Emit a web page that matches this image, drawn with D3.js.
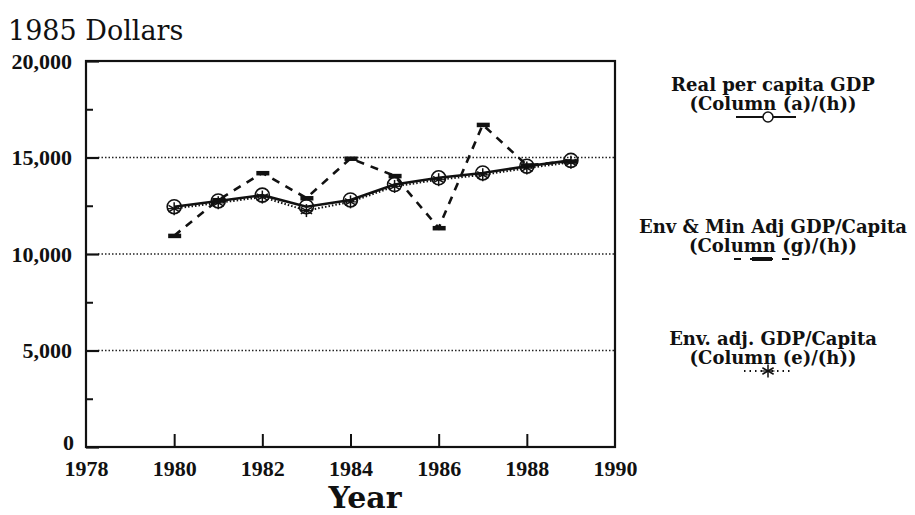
<!DOCTYPE html>
<html>
<head>
<meta charset="utf-8">
<script src="https://cdn.jsdelivr.net/npm/d3@7"></script>
<style>
  body { margin: 0; background: #fff; }
  svg { display: block; }
</style>
</head>
<body>
<script>
// values (1985 dollars)
const years = [1980, 1981, 1982, 1983, 1984, 1985, 1986, 1987, 1988, 1989]
const realGdp = [12450, 12750, 13050, 12450, 12800, 13600, 13950, 14200, 14550, 14850]
const envMinAdj = [10950, 12800, 14200, 12900, 14950, 14050, 11350, 16700, 14600, 14800]
const envAdj = [12350, 12650, 12950, 12250, 12700, 13500, 13850, 14100, 14450, 14750]

const yMajor = [0, 5000, 10000, 15000, 20000]
const yMinor = [2500, 7500, 12500, 17500]
const yGrid = [5000, 10000, 15000]
const xTicks = [1978, 1980, 1982, 1984, 1986, 1988, 1990]

const legendItems = [
  {line1: 'Real per capita GDP', line2: '(Column (a)/(h))', key: 'real'},
  {line1: 'Env & Min Adj GDP/Capita', line2: '(Column (g)/(h))', key: 'envmin'},
  {line1: 'Env. adj. GDP/Capita', line2: '(Column (e)/(h))', key: 'env'}
]

const W = 915, H = 515
const LEFT = 86, RIGHT = 615, TOP = 61, BOTTOM = 447
const SERIF = '"DejaVu Serif", serif'
const TICKFONT = '"Liberation Serif", "Times New Roman", serif'

const svg = d3.select('body').append('svg')
  .attr('width', W)
  .attr('height', H)

const x = d3.scaleLinear().domain([1978, 1990]).range([LEFT, RIGHT])
const y = d3.scaleLinear().domain([0, 20000]).range([BOTTOM, TOP])

// dotted grid lines
svg.append('g').selectAll('line')
  .data(yGrid)
  .join('line')
  .attr('x1', LEFT + 12)
  .attr('x2', RIGHT)
  .attr('y1', d => y(d))
  .attr('y2', d => y(d))
  .attr('stroke', '#222')
  .attr('stroke-width', 1.3)
  .attr('stroke-dasharray', '1.5,2')

// frame
svg.append('rect')
  .attr('x', LEFT).attr('y', TOP)
  .attr('width', RIGHT - LEFT).attr('height', BOTTOM - TOP)
  .attr('fill', 'none')
  .attr('stroke', '#111')
  .attr('stroke-width', 2.2)

// y axis, ticks point inside
const yAxis = svg.append('g')
  .attr('transform', `translate(${LEFT},0)`)
  .call(d3.axisLeft(y).tickValues(yMajor).tickSize(-13).tickPadding(14)
    .tickFormat(d3.format(',')))
yAxis.select('.domain').remove()
yAxis.selectAll('.tick line').attr('stroke', '#111').attr('stroke-width', 2.2)
yAxis.selectAll('.tick text')
  .attr('font-family', TICKFONT)
  .attr('font-weight', 'bold')
  .attr('font-size', 22)
  .attr('fill', '#111')
  .filter(d => d === 0)
  .attr('dy', '0.12em')
  .attr('x', -12)

svg.append('g')
  .attr('transform', `translate(${LEFT},0)`)
  .call(d3.axisLeft(y).tickValues(yMinor).tickSize(-7).tickFormat(''))
  .call(g => g.select('.domain').remove())
  .selectAll('.tick line').attr('stroke', '#111').attr('stroke-width', 2)

// x axis, ticks point up
const xAxis = svg.append('g')
  .attr('transform', `translate(0,${BOTTOM})`)
  .call(d3.axisBottom(x).tickValues(xTicks).tickSize(-13).tickPadding(13)
    .tickFormat(d3.format('d')))
xAxis.select('.domain').remove()
xAxis.selectAll('.tick line')
  .attr('stroke', '#111').attr('stroke-width', 2)
  .filter(d => d === 1978 || d === 1990).remove()
xAxis.selectAll('.tick text')
  .attr('font-family', TICKFONT)
  .attr('font-weight', 'bold')
  .attr('font-size', 22)
  .attr('fill', '#111')

// titles
svg.append('text')
  .attr('x', 8).attr('y', 40)
  .attr('font-family', SERIF)
  .attr('font-size', 27)
  .attr('fill', '#111')
  .text('1985 Dollars')

svg.append('text')
  .attr('x', 365).attr('y', 508)
  .attr('text-anchor', 'middle')
  .attr('font-family', SERIF)
  .attr('font-weight', 'bold')
  .attr('font-size', 30)
  .attr('fill', '#111')
  .text('Year')

// series
const lineGen = vals => d3.line()
  .x((d, i) => x(years[i]))
  .y(d => y(d))(vals)

svg.append('path')
  .attr('d', lineGen(envMinAdj))
  .attr('fill', 'none')
  .attr('stroke', '#111')
  .attr('stroke-width', 2.6)
  .attr('stroke-dasharray', '8,7')

svg.append('path')
  .attr('d', lineGen(realGdp))
  .attr('fill', 'none')
  .attr('stroke', '#111')
  .attr('stroke-width', 2.6)

svg.append('path')
  .attr('d', lineGen(envAdj))
  .attr('fill', 'none')
  .attr('stroke', '#111')
  .attr('stroke-width', 2)
  .attr('stroke-dasharray', '1.5,2')

function dashMark(g) {
  g.append('rect')
    .attr('x', -6).attr('y', -2)
    .attr('width', 13).attr('height', 4.5)
    .attr('fill', '#111')
}
function circleMark(g) {
  g.append('circle')
    .attr('r', 7)
    .attr('fill', 'none')
    .attr('stroke', '#111')
    .attr('stroke-width', 1.6)
}
function starMark(g) {
  const r = 6.5
  const arms = [90, 30, -30]
  arms.forEach(a => {
    const rad = a * Math.PI / 180
    g.append('line')
      .attr('x1', -r * Math.cos(rad)).attr('y1', -r * Math.sin(rad))
      .attr('x2', r * Math.cos(rad)).attr('y2', r * Math.sin(rad))
      .attr('stroke', '#111')
      .attr('stroke-width', 1.5)
  })
  g.append('line')
    .attr('x1', -r).attr('x2', r)
    .attr('stroke', '#111')
    .attr('stroke-width', 1.2)
}

svg.append('g').selectAll('g')
  .data(envMinAdj)
  .join('g')
  .attr('transform', (d, i) => `translate(${x(years[i])},${y(d)})`)
  .each(function () { dashMark(d3.select(this)) })

svg.append('g').selectAll('g')
  .data(realGdp)
  .join('g')
  .attr('transform', (d, i) => `translate(${x(years[i])},${y(d)})`)
  .each(function () { circleMark(d3.select(this)) })

svg.append('g').selectAll('g')
  .data(envAdj)
  .join('g')
  .attr('transform', (d, i) => `translate(${x(years[i])},${y(d)})`)
  .each(function () { starMark(d3.select(this)) })

// legend
const LX = 773
const legendY = [91, 233, 345]

const leg = svg.append('g').selectAll('g')
  .data(legendItems)
  .join('g')
  .attr('transform', (d, i) => `translate(${LX},${legendY[i]})`)

leg.append('text')
  .attr('text-anchor', 'middle')
  .attr('font-family', SERIF)
  .attr('font-weight', 'bold')
  .attr('font-size', 18)
  .attr('fill', '#111')
  .text(d => d.line1)

leg.append('text')
  .attr('y', 19)
  .attr('text-anchor', 'middle')
  .attr('font-family', SERIF)
  .attr('font-weight', 'bold')
  .attr('font-size', 18)
  .attr('fill', '#111')
  .text(d => d.line2)

leg.each(function (d) {
  const g = d3.select(this).append('g').attr('transform', 'translate(-5,26)')
  if (d.key === 'real') {
    g.append('line').attr('x1', -32).attr('x2', 28)
      .attr('stroke', '#111').attr('stroke-width', 2)
    g.append('circle').attr('r', 5).attr('fill', '#fff')
      .attr('stroke', '#111').attr('stroke-width', 1.5)
  } else if (d.key === 'envmin') {
    g.append('line').attr('x1', -34).attr('x2', 22)
      .attr('stroke', '#111').attr('stroke-width', 2)
      .attr('stroke-dasharray', '7,9')
    g.append('rect').attr('x', -16).attr('y', -2).attr('width', 20).attr('height', 4)
      .attr('fill', '#111')
  } else {
    g.append('line').attr('x1', -24).attr('x2', 22)
      .attr('stroke', '#111').attr('stroke-width', 2)
      .attr('stroke-dasharray', '1.5,4')
    starMark(g)
  }
})
</script>
</body>
</html>
